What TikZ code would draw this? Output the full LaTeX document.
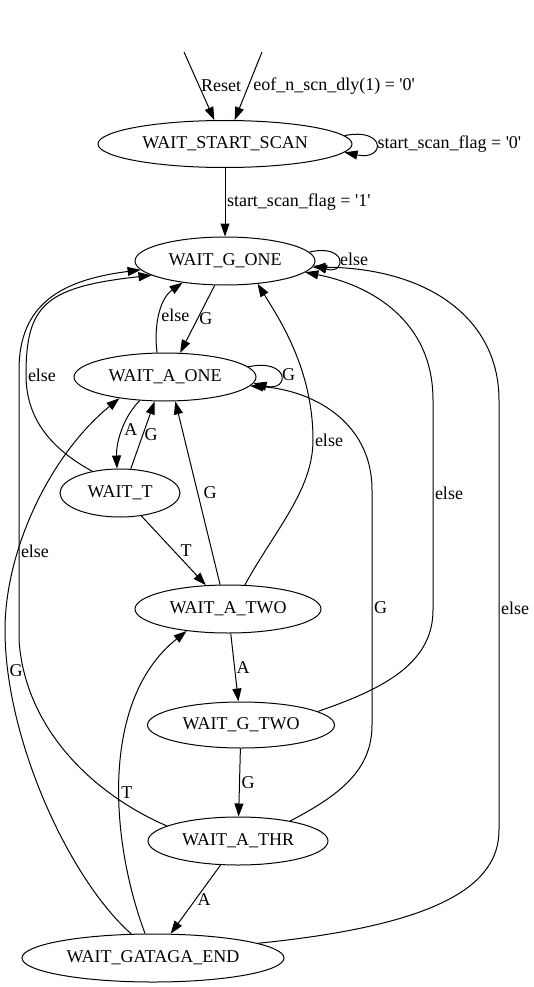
\documentclass[tikz,border=0pt]{standalone}
\usepackage{fontspec}
\setmainfont{Liberation Serif}[Ligatures=TeXOff]
\usetikzlibrary{shapes.geometric,arrows.meta}
\begin{document}
\begin{tikzpicture}[x=1pt,y=-1pt,
  font=\fontsize{18}{21}\selectfont,
  state/.style={draw, ellipse, inner sep=0pt, line width=1pt},
  trans/.style={-{Triangle[length=13pt,width=9pt]}, line width=1pt},
  lbl/.style={inner sep=1.5pt}]
\useasboundingbox (0,0) rectangle (534,987);
\node[state, minimum width=254pt, minimum height=47pt] (sscan) at (225,144) {WAIT\_START\_SCAN};
\node[state, minimum width=180pt, minimum height=48pt] (gone) at (225,261) {WAIT\_G\_ONE};
\node[state, minimum width=182pt, minimum height=48pt] (aone) at (165,377) {WAIT\_A\_ONE};
\node[state, minimum width=120pt, minimum height=48pt] (waitt) at (120,493) {WAIT\_T};
\node[state, minimum width=186pt, minimum height=48pt] (atwo) at (228,609) {WAIT\_A\_TWO};
\node[state, minimum width=187pt, minimum height=46pt] (gtwo) at (241,725) {WAIT\_G\_TWO};
\node[state, minimum width=180pt, minimum height=48pt] (athr) at (238,841) {WAIT\_A\_THR};
\node[state, minimum width=262pt, minimum height=48pt] (gend) at (153,958) {WAIT\_GATAGA\_END};
\coordinate (rst) at (184,52);
\coordinate (eof) at (262,52);
\draw[trans] (rst) -- (sscan) node[lbl, midway, right] {Reset};
\draw[trans] (eof) -- (sscan) node[lbl, midway, right=3pt] {eof\_n\_scn\_dly(1) = '0'};
\draw[trans] (sscan.4) .. controls (386,127) and (386,161) .. (sscan.-4) node[lbl, pos=0.5, right] {start\_scan\_flag = '0'};
\draw[trans] (sscan) -- (gone) node[lbl, midway, right] {start\_scan\_flag = '1'};
\draw[trans] (gone.6) .. controls (347,243) and (347,275) .. (gone.-3) node[lbl, pos=0.5, right] {else};
\draw[trans] (gone.247) -- (aone.58) node[lbl, midway, right] {G};
\draw[trans] (aone.108) .. controls (154,330) and (158,300) .. (gone.207) node[lbl, pos=0.5, right] {else};
\draw[trans] (aone.7) .. controls (290,358) and (290,392) .. (aone.-4) node[lbl, pos=0.5, right] {G};
\draw[trans] (aone.223) .. controls (125,415) and (116,440) .. (waitt.97) node[lbl, pos=0.5, right] {A};
\draw[trans] (waitt.66) -- (aone.247) node[lbl, midway, right] {G};
\draw[trans] (waitt.142) .. controls (50,448) and (26,418) .. (26,375) node[lbl, right] {else}
  .. controls (26,305) and (45,287) .. (gone.191);
\draw[trans] (waitt) -- (atwo) node[lbl, midway, right=5pt] {T};
\draw[trans] (atwo.108) -- (aone.-67) node[lbl, midway, right=4pt] {G};
\draw[trans] (atwo.55) .. controls (275,530) and (313,490) .. (313,440) node[lbl, right] {else}
  .. controls (313,370) and (280,320) .. (gone.-35);
\draw[trans] (atwo) -- (gtwo) node[lbl, midway, right] {A};
\draw[trans] (gtwo) -- (athr) node[lbl, midway, right] {G};
\draw[trans] (gtwo.10) .. controls (380,690) and (433,665) .. (433,610)
  -- (433,400) node[lbl, pos=0.557, right] {else}
  .. controls (433,320) and (370,285) .. (gone.-8);
\draw[trans] (athr.21) .. controls (340,795) and (372,770) .. (372,725)
  -- (372,490) node[lbl, pos=0.5, right] {G}
  .. controls (372,420) and (310,390) .. (aone.-6);
\draw[trans] (athr.168) .. controls (95,795) and (25,730) .. (19,640)
  -- (19,370) node[lbl, pos=0.33, right] {else}
  .. controls (19,305) and (60,280) .. (gone.186);
\draw[trans] (athr) -- (gend) node[lbl, midway, right] {A};
\draw[trans] (gend.132) .. controls (70,880) and (5,740) .. (5,630) node[lbl, pos=0.88, right] {G}
  .. controls (5,550) and (50,455) .. (aone.205);
\draw[trans] (gend.108) .. controls (110,840) and (100,700) .. (atwo.208) node[lbl, pos=0.44, right] {T};
\draw[trans] (gend.8) .. controls (440,925) and (499,885) .. (499,830)
  -- (499,400) node[lbl, pos=0.516, right] {else}
  .. controls (499,320) and (430,268) .. (gone.-4);
\end{tikzpicture}
\end{document}
